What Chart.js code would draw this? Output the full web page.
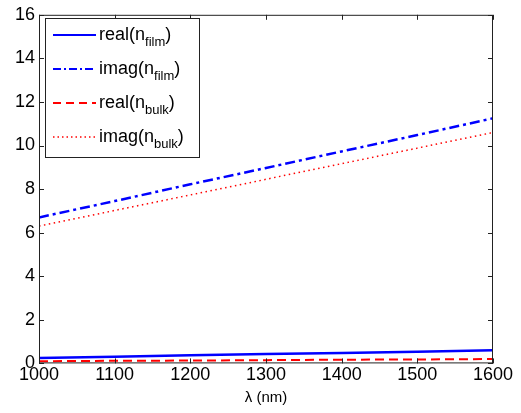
<!DOCTYPE html>
<html lang="en">
<head>
<meta charset="UTF-8">
<script src="https://cdn.jsdelivr.net/npm/chart.js"></script>
<title>n film / bulk</title>
<style>
  html, body { margin: 0; padding: 0; background: #fff; }
  #wrap { width: 521px; height: 413px; }
</style>
</head>
<body>
<div id="wrap"><canvas id="nChart" width="521" height="413"></canvas></div>
<script>
// wavelength (nm)
var lambda = [1000, 1100, 1200, 1300, 1400, 1500, 1600];
var realFilm = [0.25, 0.31, 0.37, 0.43, 0.48, 0.54, 0.60];
var imagFilm = [6.70, 7.45, 8.22, 8.97, 9.73, 10.48, 11.25];
var realBulk = [0.10, 0.12, 0.13, 0.15, 0.17, 0.18, 0.20];
var imagBulk = [6.30, 7.02, 7.73, 8.45, 9.17, 9.88, 10.60];

var xTicks = [1000, 1100, 1200, 1300, 1400, 1500, 1600];
var yTicks = [0, 2, 4, 6, 8, 10, 12, 14, 16];

var legendItems = [
  { base: 'real(n', sub: 'film', color: '#0000ff', dash: [], width: 2 },
  { base: 'imag(n', sub: 'film', color: '#0000ff', dash: [8, 3, 2, 3], width: 2 },
  { base: 'real(n', sub: 'bulk', color: '#ff0000', dash: [8, 5], width: 2 },
  { base: 'imag(n', sub: 'bulk', color: '#ff0000', dash: [1.5, 3], width: 1.5 }
];

function pts(ys) {
  return lambda.map(function(x, i) { return { x: x, y: ys[i] }; });
}

var FONT = 'Arial, "Liberation Sans", sans-serif';

// frame, inward ticks on all four sides, and the boxed legend
var framePlugin = {
  id: 'frame',
  afterDraw: function(chart) {
    var ctx = chart.ctx, a = chart.chartArea;
    var xs = chart.scales.x, ys = chart.scales.y;
    ctx.save();
    ctx.strokeStyle = '#222';
    ctx.lineWidth = 1;
    ctx.setLineDash([]);
    ctx.strokeRect(a.left + 0.5, a.top + 0.5, a.right - a.left - 1, a.bottom - a.top - 1);
    ctx.beginPath();
    xTicks.forEach(function(v) {
      var px = Math.round(xs.getPixelForValue(v)) + 0.5;
      ctx.moveTo(px, a.bottom); ctx.lineTo(px, a.bottom - 5);
      ctx.moveTo(px, a.top); ctx.lineTo(px, a.top + 5);
    });
    yTicks.forEach(function(v) {
      var py = Math.round(ys.getPixelForValue(v)) + 0.5;
      ctx.moveTo(a.left, py); ctx.lineTo(a.left + 5, py);
      ctx.moveTo(a.right, py); ctx.lineTo(a.right - 5, py);
    });
    ctx.stroke();

    // legend box
    var bx = 45, by = 18, bw = 154, bh = 139;
    ctx.fillStyle = '#fff';
    ctx.fillRect(bx, by, bw, bh);
    ctx.strokeStyle = '#222';
    ctx.strokeRect(bx + 0.5, by + 0.5, bw, bh);
    legendItems.forEach(function(it, i) {
      var cy = 35 + i * 34;
      ctx.strokeStyle = it.color;
      ctx.lineWidth = it.width;
      ctx.setLineDash(it.dash);
      ctx.beginPath();
      ctx.moveTo(53, cy); ctx.lineTo(96, cy);
      ctx.stroke();
      ctx.setLineDash([]);
      ctx.fillStyle = '#000';
      ctx.textBaseline = 'middle';
      ctx.textAlign = 'left';
      ctx.font = '18px ' + FONT;
      var tx = 99;
      ctx.fillText(it.base, tx, cy);
      tx += ctx.measureText(it.base).width;
      ctx.font = '13px ' + FONT;
      ctx.fillText(it.sub, tx, cy + 7);
      tx += ctx.measureText(it.sub).width;
      ctx.font = '18px ' + FONT;
      ctx.fillText(')', tx, cy);
    });
    ctx.restore();
  }
};

var ctx = document.getElementById('nChart').getContext('2d');
var chart = new Chart(ctx, {
  type: 'line',
  data: {
    datasets: [
      { label: 'real(n_film)', data: pts(realFilm), borderColor: '#0000ff', borderWidth: 2.5, borderDash: [] },
      { label: 'imag(n_film)', data: pts(imagFilm), borderColor: '#0000ff', borderWidth: 2.5, borderDash: [10, 4, 3, 4] },
      { label: 'real(n_bulk)', data: pts(realBulk), borderColor: '#ff0000', borderWidth: 2, borderDash: [9, 5] },
      { label: 'imag(n_bulk)', data: pts(imagBulk), borderColor: '#ff0000', borderWidth: 1.5, borderDash: [1.5, 3.5] }
    ]
  },
  options: {
    responsive: false,
    animation: false,
    events: [],
    layout: { padding: { top: 13, right: 28, left: 0, bottom: 4 } },
    elements: { point: { radius: 0 }, line: { tension: 0, fill: false } },
    plugins: { legend: { display: false }, tooltip: { enabled: false } },
    scales: {
      x: {
        type: 'linear',
        min: 1000, max: 1600,
        afterBuildTicks: function(s) { s.ticks = xTicks.map(function(v) { return { value: v }; }); },
        grid: { display: false, drawTicks: false },
        border: { display: false },
        ticks: {
          color: '#000', font: { size: 18, family: FONT }, padding: 1, maxRotation: 0,
          callback: function(v) { return String(v); }
        },
        title: { display: true, text: 'λ (nm)', color: '#000', font: { size: 15, family: FONT }, padding: { top: 2, bottom: 2 } }
      },
      y: {
        min: 0, max: 16,
        afterBuildTicks: function(s) { s.ticks = yTicks.map(function(v) { return { value: v }; }); },
        afterFit: function(s) { s.width = 39; },
        grid: { display: false, drawTicks: false },
        border: { display: false },
        ticks: { color: '#000', font: { size: 18, family: FONT }, padding: 4 }
      }
    }
  },
  plugins: [framePlugin]
});
</script>
</body>
</html>
